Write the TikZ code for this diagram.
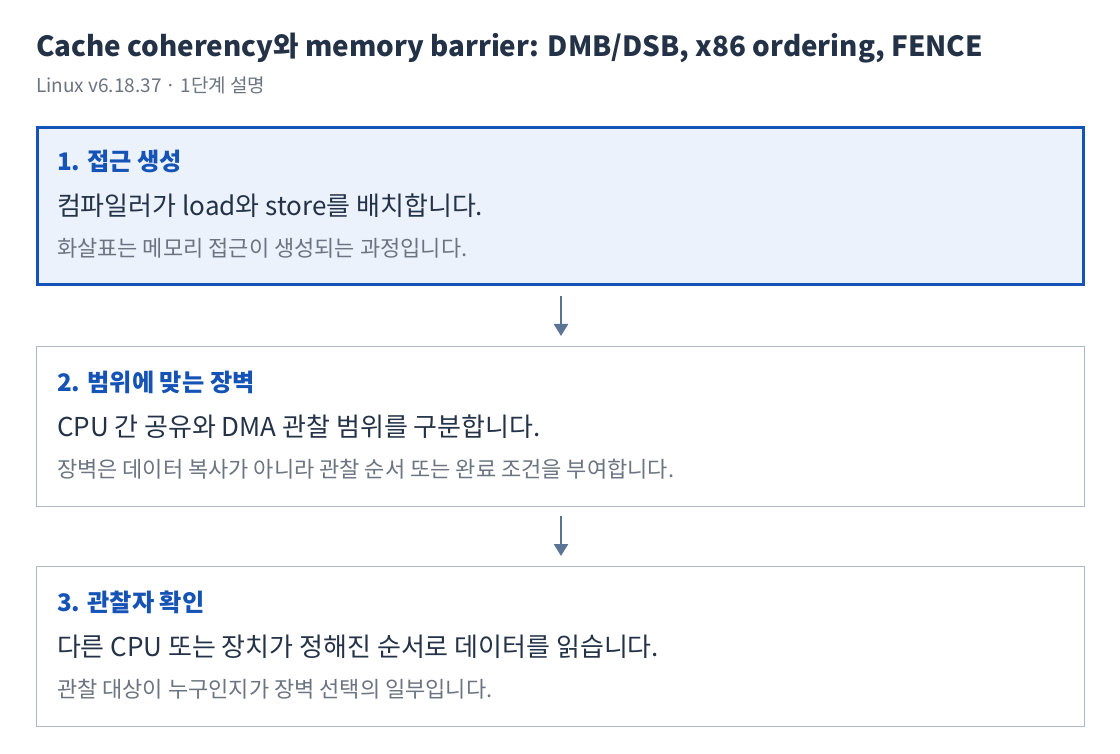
\documentclass[tikz,border=0pt]{standalone}
\usepackage{fontspec}
\setmainfont{Noto Sans CJK KR}
\usetikzlibrary{arrows.meta}
\definecolor{titlec}{HTML}{243247}
\definecolor{bluec}{HTML}{1553B6}
\definecolor{fillc}{HTML}{EBF2FC}
\definecolor{grayb}{HTML}{AEB8C6}
\definecolor{subc}{HTML}{6B7480}
\definecolor{arrc}{HTML}{5A7493}
\begin{document}
\begin{tikzpicture}[x=1pt,y=-1pt,
  txt/.style={anchor=base west,inner sep=0pt,outer sep=0pt},
  ttl/.style={txt,font=\fontsize{24.2}{28}\selectfont\bfseries,text=bluec},
  mainl/.style={txt,font=\fontsize{26}{30}\selectfont,text=titlec},
  smalll/.style={txt,font=\fontsize{22}{26}\selectfont,text=subc},
  activebox/.style={draw=bluec,line width=3pt,fill=fillc},
  plainbox/.style={draw=grayb,line width=1pt,fill=white},
  conn/.style={draw=arrc,line width=2.5pt,-{Triangle[length=12pt,width=14pt]}}
]
\useasboundingbox (0,0) rectangle (1120,754);
\fill[white] (0,0) rectangle (1120,754);
\node[txt,font=\fontsize{27.8}{32}\selectfont\bfseries,text=titlec] (title) at (36,57) {Cache coherency와 memory barrier: DMB/DSB, x86 ordering, FENCE};
\node[txt,font=\fontsize{19}{22}\selectfont,text=subc] (sub) at (36,93) {Linux v6.18.37 · 1단계 설명};

\path[activebox] (37.5,127.5) rectangle (1083.5,284.5);
\coordinate (b1) at (561,286);
\node[ttl] (t1) at (57,171) {1. 접근 생성};
\node[mainl] (m1) at (57,216) {컴파일러가 load와 store를 배치합니다.};
\node[smalll] (s1) at (57,257) {화살표는 메모리 접근이 생성되는 과정입니다.};

\path[plainbox] (36.5,346.5) rectangle (1084.5,506.5);
\coordinate (a2) at (561,346);
\coordinate (b2) at (561,506);
\node[ttl] (t2) at (57,391) {2. 범위에 맞는 장벽};
\node[mainl] (m2) at (57,436) {CPU 간 공유와 DMA 관찰 범위를 구분합니다.};
\node[smalll] (s2) at (57,477) {장벽은 데이터 복사가 아니라 관찰 순서 또는 완료 조건을 부여합니다.};

\path[plainbox] (36.5,566.5) rectangle (1084.5,726.5);
\coordinate (a3) at (561,566);
\node[ttl] (t3) at (57,611) {3. 관찰자 확인};
\node[mainl] (m3) at (57,656) {다른 CPU 또는 장치가 정해진 순서로 데이터를 읽습니다.};
\node[smalll] (s3) at (57,697) {관찰 대상이 누구인지가 장벽 선택의 일부입니다.};

\draw[conn] ([yshift=-10]b1) -- ([yshift=10]a2);
\draw[conn] ([yshift=-10]b2) -- ([yshift=10]a3);
\end{tikzpicture}
\end{document}
